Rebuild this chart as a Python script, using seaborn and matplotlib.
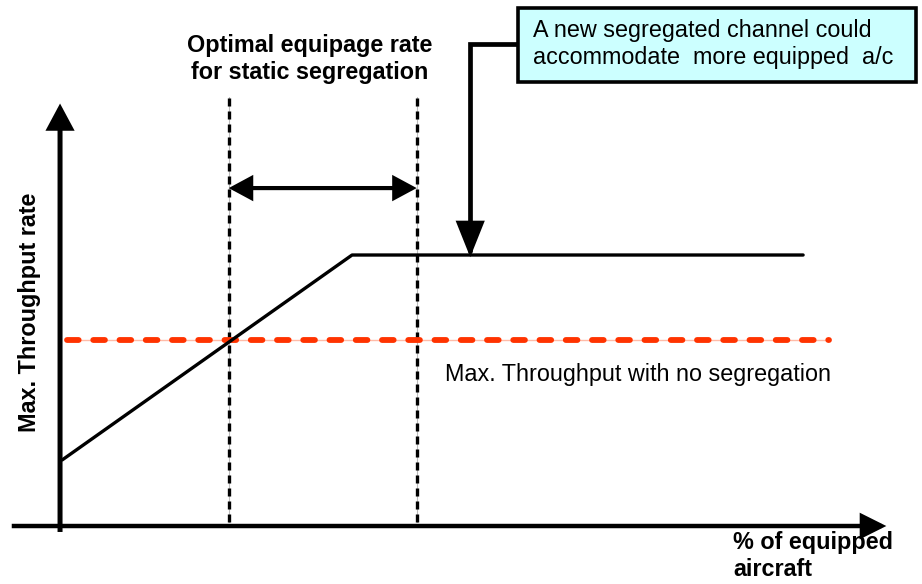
import matplotlib
matplotlib.use("Agg")
import matplotlib.pyplot as plt
import seaborn as sns
from matplotlib.patches import FancyArrowPatch, Rectangle
from matplotlib.path import Path

# Conceptual data (x: % of equipped aircraft, y: max. throughput rate, 100 = segregated plateau)
curve_x = [0.3, 39.3, 100.0]
curve_y = [24.4, 100.0, 100.0]
no_seg_level = 68.6
no_seg_span = [0.9, 103.5]
optimal_range = [22.7, 48.0]

title_text = "Optimal equipage rate\nfor static segregation"
callout_text = "A new segregated channel could\naccommodate  more equipped  a/c"
no_seg_text = "Max. Throughput with no segregation"
x_label = "% of equipped\naircraft"
y_label = "Max. Throughput rate"

sns.set_theme(style="white")
plt.rcParams["font.family"] = ["Liberation Sans", "DejaVu Sans"]
plt.rcParams["text.color"] = "black"

fig = plt.figure(figsize=(9.22, 5.84), dpi=100)
ax = fig.add_axes([0, 0, 1, 1])
ax.set_xlim(-8.08, 116.0)
ax.set_ylim(-21.4, 194.1)
ax.axis("off")

FS = 16.8

# Axes drawn as arrows
def arrow(p0, p1, style, lw, **kw):
    a = FancyArrowPatch(p0, p1, arrowstyle=style, lw=lw, color="black",
                        shrinkA=0, shrinkB=0, mutation_scale=1,
                        joinstyle="miter", capstyle="butt", **kw)
    ax.add_patch(a)
    return a

arrow((-6.5, 0), (111.2, 0), "-|>,head_length=14,head_width=7", 3.2, zorder=5)
arrow((0, -2.2), (0, 155.9), "-|>,head_length=14,head_width=7.5", 3.6, zorder=5)

# Optimal equipage band boundaries
for xv in optimal_range:
    ax.plot([xv, xv], [1.5, 158.3], color="#BBBBBB", lw=0.8, zorder=2)
    ax.plot([xv, xv], [1.5, 158.3], color="black", lw=2.4,
            linestyle=(0, (2.4, 1.5)), zorder=3)

# Double-headed arrow across the optimal band
arrow((optimal_range[0], 124.7), (optimal_range[1], 124.7),
      "<|-|>,head_length=13,head_width=7", 3.0, zorder=4)

# No-segregation throughput level
ax.plot(no_seg_span, [no_seg_level] * 2, color="#FFBBA8", lw=1.0, zorder=2)
ax.plot(no_seg_span, [no_seg_level] * 2, color="#FF3300", lw=4.2,
        linestyle=(0, (2.0, 2.5)), dash_capstyle="round", zorder=3)

# Segregated throughput curve
sns.lineplot(x=curve_x, y=curve_y, ax=ax, color="black", lw=2.4, zorder=4)

# Callout box and connector
box = Rectangle((61.6, 163.8), 53.6, 27.3, facecolor="#CCFFFF",
                edgecolor="black", lw=2.6, zorder=6)
ax.add_patch(box)
ax.text(63.7, 177.9, callout_text, fontsize=FS, va="center", ha="left",
        linespacing=1.25, zorder=7)
conn = FancyArrowPatch(path=Path([(61.6, 177.9), (55.2, 177.9), (55.2, 99.2)]),
                       arrowstyle="-|>,head_length=20,head_width=8",
                       mutation_scale=1, lw=3.4, color="black",
                       joinstyle="miter", zorder=5)
ax.add_patch(conn)

# Labels
ax.text(33.6, 172.4, title_text, fontsize=FS, fontweight="bold",
        ha="center", va="center", linespacing=1.22)
ax.text(51.8, 56.0, no_seg_text, fontsize=FS, ha="left", va="center")
ax.text(90.6, -11.2, x_label, fontsize=FS, fontweight="bold",
        ha="left", va="center", linespacing=1.22)
ax.text(-4.05, 79.0, y_label, fontsize=FS, fontweight="bold",
        ha="center", va="center", rotation=90)

fig.savefig("out.png", dpi=100)
